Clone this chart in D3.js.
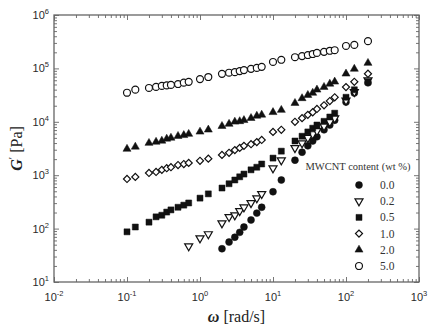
<!DOCTYPE html>
<html>
<head>
<meta charset="utf-8">
<script src="https://cdn.jsdelivr.net/npm/d3@7"></script>
<style>
  body { margin: 0; background: #fff; }
  svg { display: block; }
</style>
</head>
<body>
<div id="chart"></div>
<script>
// frequency grid (rad/s), shared by all series
const omega = [0.1, 0.13, 0.2, 0.25, 0.3, 0.35, 0.4, 0.5, 0.6, 0.7,
  1, 1.3, 2, 2.5, 3, 3.5, 4, 5, 6, 7,
  10, 13, 20, 25, 30, 35, 40, 50, 60, 70,
  100, 130, 200];

// storage modulus G' (Pa)
const g50 = [35000, 40000, 43000, 45000, 47000, 48000, 49000, 51000, 54000, 56000,
  63000, 69000, 79000, 83000, 85000, 89000, 93000, 98000, 102000, 107000,
  132000, 145000, 162000, 170000, 178000, 186000, 195000, 204000, 214000, 219000,
  263000, 275000, 324000];
const g20 = [3100, 3400, 4000, 4200, 4400, 4800, 5000, 5400, 5600, 5900,
  6500, 7100, 8300, 9100, 10000, 10200, 10700, 11700, 12900, 13500,
  15100, 16600, 22400, 27500, 31600, 34700, 39800, 44700, 51300, 56200,
  79400, 97700, 126000];
const g10 = [850, 930, 1100, 1150, 1260, 1350, 1410, 1550, 1620, 1700,
  1860, 2040, 2400, 2630, 2950, 3240, 3550, 3800, 4170, 4570,
  6460, 7080, 10000, 11700, 13500, 15100, 17400, 20400, 24500, 28800,
  44700, 56200, 79400];
const g05 = [87, 107, 132, 166, 178, 204, 224, 251, 275, 302,
  372, 447, 575, 692, 813, 933, 1050, 1260, 1410, 1620,
  2090, 2820, 4370, 5370, 6460, 7590, 8710, 10200, 12300, 14500,
  28800, 39800, 56200];
// 0.2 wt% starts at 0.7 rad/s, 0.0 wt% at 2 rad/s
const g02 = [47, 66, 79, 126, 166, 178, 214, 251, 302, 372, 447,
  1350, 1910, 3240, 3980, 5010, 5890, 6760, 8320, 10000, 11700,
  25100, 36300, 60300];
const g00 = [42, 56, 69, 85, 107, 145, 195, 251,
  490, 813, 1910, 2690, 3550, 4370, 5250, 7080, 8710, 10700,
  23400, 34700, 53700];

const contents = ['0.0', '0.2', '0.5', '1.0', '2.0', '5.0'];

const xDecades = [-2, -1, 0, 1, 2, 3];
const yDecades = [1, 2, 3, 4, 5, 6];

const W = 429, H = 325;
const margin = { left: 54, right: 10, top: 15, bottom: 43 };

const svg = d3.select('#chart').append('svg')
  .attr('width', W)
  .attr('height', H);

const x = d3.scaleLog().domain([1e-2, 1e3]).range([margin.left, W - margin.right]);
const y = d3.scaleLog().domain([1e1, 1e6]).range([H - margin.bottom, margin.top]);

const series = [
  { label: contents[0], w: omega.slice(12), g: g00, type: 'circle', open: false },
  { label: contents[1], w: omega.slice(9), g: g02, type: 'down', open: true },
  { label: contents[2], w: omega, g: g05, type: 'square', open: false },
  { label: contents[3], w: omega, g: g10, type: 'diamond', open: true },
  { label: contents[4], w: omega, g: g20, type: 'triangle', open: false },
  { label: contents[5], w: omega, g: g50, type: 'circle', open: true }
];

function symbolPath(type) {
  if (type === 'circle') return d3.symbol(d3.symbolCircle, 38)();
  if (type === 'square') return d3.symbol(d3.symbolSquare, 36)();
  if (type === 'diamond') return d3.symbol(d3.symbolSquare, 25)();
  return d3.symbol(d3.symbolTriangle, 28)();
}
function symbolRotate(type) {
  if (type === 'diamond') return ' rotate(45)';
  if (type === 'down') return ' rotate(180)';
  return '';
}

// minor + major tick values
function minors(decades) {
  const out = [];
  decades.slice(0, -1).forEach(function (d) {
    for (let k = 2; k < 10; k++) out.push(k * Math.pow(10, d));
  });
  return out;
}
const xMajor = xDecades.map((d) => Math.pow(10, d));
const yMajor = yDecades.map((d) => Math.pow(10, d));

const axisColor = '#666';
const x0 = margin.left, x1 = W - margin.right;
const y0 = H - margin.bottom, y1 = margin.top;

function drawAxis(gen, tx, ty, values, size) {
  const g = svg.append('g')
    .attr('transform', `translate(${tx},${ty})`)
    .call(gen.tickValues(values).tickSize(size).tickSizeOuter(0).tickFormat(''));
  g.select('.domain').remove();
  g.selectAll('line').attr('stroke', axisColor).attr('stroke-width', 0.9);
}

// inward ticks on all four sides
drawAxis(d3.axisBottom(x), 0, y0, minors(xDecades), -3);
drawAxis(d3.axisBottom(x), 0, y0, xMajor, -5);
drawAxis(d3.axisTop(x), 0, y1, minors(xDecades), -3);
drawAxis(d3.axisTop(x), 0, y1, xMajor, -5);
drawAxis(d3.axisLeft(y), x0, 0, minors(yDecades), -3);
drawAxis(d3.axisLeft(y), x0, 0, yMajor, -5);
drawAxis(d3.axisRight(y), x1, 0, minors(yDecades), -3);
drawAxis(d3.axisRight(y), x1, 0, yMajor, -5);

// frame
svg.append('rect')
  .attr('x', x0).attr('y', y1)
  .attr('width', x1 - x0).attr('height', y0 - y1)
  .attr('fill', 'none')
  .attr('stroke', axisColor)
  .attr('stroke-width', 1.3);

// tick labels with superscripts
const tickFont = "'Liberation Sans', Arial, sans-serif";
const yl = svg.append('g').selectAll('text')
  .data(yDecades)
  .enter()
  .append('text')
  .attr('x', x0 - 5)
  .attr('y', (d) => y(Math.pow(10, d)) + 4)
  .attr('text-anchor', 'end')
  .attr('font-family', tickFont)
  .attr('font-size', 11)
  .attr('fill', '#2a2a2a');
yl.append('tspan').text('10');
yl.append('tspan').attr('dy', -5).attr('font-size', 7.5).text((d) => d);

const xl = svg.append('g').selectAll('text')
  .data(xDecades)
  .enter()
  .append('text')
  .attr('x', (d) => x(Math.pow(10, d)))
  .attr('y', y0 + 19)
  .attr('text-anchor', 'middle')
  .attr('font-family', tickFont)
  .attr('font-size', 11)
  .attr('fill', '#2a2a2a');
xl.append('tspan').text('10');
xl.append('tspan').attr('dy', -5).attr('font-size', 7.5).text((d) => d);

// axis titles
const serif = "'Liberation Serif', 'Times New Roman', serif";
const xt = svg.append('text')
  .attr('x', (x0 + x1) / 2)
  .attr('y', H - 3)
  .attr('text-anchor', 'middle')
  .attr('font-family', serif)
  .attr('font-size', 16)
  .attr('fill', '#222');
xt.append('tspan').attr('font-style', 'italic').attr('font-weight', 'bold').text('ω');
xt.append('tspan').text(' [rad/s]');

const yt = svg.append('text')
  .attr('transform', `translate(22,${(y0 + y1) / 2}) rotate(-90)`)
  .attr('text-anchor', 'middle')
  .attr('font-family', serif)
  .attr('font-size', 16)
  .attr('fill', '#222');
yt.append('tspan').attr('font-style', 'italic').attr('font-weight', 'bold').text('G');
yt.append('tspan').attr('dy', -6).attr('font-size', 11).text('\u2032');
yt.append('tspan').attr('dy', 6).text(' [Pa]');

// data points
series.forEach(function (s) {
  svg.append('g')
    .selectAll('path')
    .data(s.g.map((v, i) => [s.w[i], v]))
    .enter()
    .append('path')
    .attr('d', symbolPath(s.type))
    .attr('transform', (d) => `translate(${x(d[0])},${y(d[1])})` + symbolRotate(s.type))
    .attr('fill', s.open ? '#fff' : '#111')
    .attr('stroke', '#111')
    .attr('stroke-width', s.open ? 1.2 : 0.5);
});

// legend
const legend = svg.append('g').attr('font-family', serif).attr('fill', '#333');
legend.append('text')
  .attr('x', 358)
  .attr('y', 170)
  .attr('text-anchor', 'middle')
  .attr('font-size', 10.5)
  .text('MWCNT content (wt %)');

const item = legend.selectAll('.item')
  .data(series)
  .enter()
  .append('g')
  .attr('class', 'item')
  .attr('transform', (d, i) => `translate(359,${185 + i * 16.2})`);
item.append('path')
  .attr('d', (d) => symbolPath(d.type))
  .attr('transform', (d) => 'translate(0,0)' + symbolRotate(d.type))
  .attr('fill', (d) => (d.open ? '#fff' : '#111'))
  .attr('stroke', '#111')
  .attr('stroke-width', (d) => (d.open ? 1.2 : 0.5));
item.append('text')
  .attr('x', 21)
  .attr('y', 4)
  .attr('font-size', 11.5)
  .text((d) => d.label);
</script>
</body>
</html>
